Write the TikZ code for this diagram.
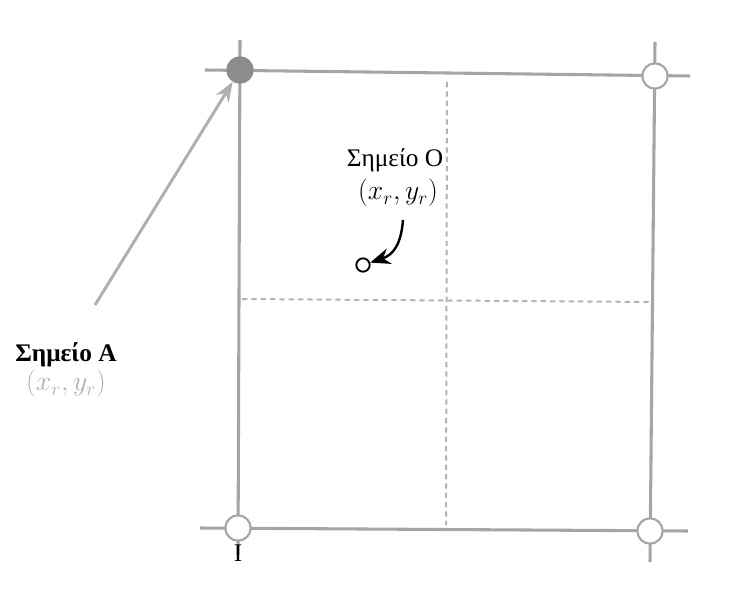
\documentclass[tikz,border=0pt]{standalone}
\usepackage{fontspec}
\setmainfont{Liberation Serif}
\usetikzlibrary{arrows.meta}
\definecolor{gridgray}{RGB}{165,165,165}
\definecolor{dashgray}{RGB}{180,180,180}
\definecolor{fillgray}{RGB}{140,140,140}
\definecolor{labgray}{RGB}{175,175,175}
\begin{document}
\begin{tikzpicture}[x=0.75pt,y=-0.75pt,
  gline/.style={draw=gridgray,line width=2.3pt},
  dline/.style={draw=dashgray,line width=1.5pt,dash pattern=on 4pt off 3pt},
  corner/.style={circle,draw=gridgray,line width=1.6pt,fill=white,minimum size=19pt,inner sep=0pt},
  lab/.style={font=\fontsize{19}{22}\selectfont,inner sep=1pt}]
\useasboundingbox[fill=white] (0,0) rectangle (732,595);
% frame lines
\draw[gline] (205,70) -- (690,76);
\draw[gline] (200,528) -- (688,531);
\draw[gline] (240,40) -- (238,555);
\draw[gline] (655,42) -- (650,562);
% dashed
\draw[dline] (447,82) -- (446,525);
\draw[dline] (242,299) -- (653,302);
% corners
\node[corner,fill=fillgray,draw=fillgray] (A) at (240,70) {};
\node[corner] (B) at (655,76) {};
\node[corner] (C) at (238,528) {};
\node[corner] (D) at (650,531) {};
\node[font=\fontsize{19}{22}\selectfont,inner sep=0pt] (I) at (238,553) {I};
% point O
\node[circle,draw=black,line width=1.4pt,fill=white,minimum size=10pt,inner sep=0pt] (O) at (363,265) {};
\node[lab] (Ot) at (395,160) {Σημείο Ο};
\node[lab,font=\fontsize{21}{24}\selectfont] (Oc) at (398,193) {$(x_{r}, y_{r})$};
\coordinate (Os) at (403,220);
\draw[line width=1.8pt,-{Stealth[length=15pt,width=12pt]}] (Os) .. controls (401,245) and (393,255) .. (O);
% point A
\node[lab,font=\fontsize{19}{22}\selectfont\bfseries] (At) at (66,355) {Σημείο Α};
\node[lab,font=\fontsize{21}{24}\selectfont,text=labgray] (Ac) at (66,384) {$(x_{r}, y_{r})$};
\coordinate (As) at (95,305);
\draw[draw=labgray,line width=2.2pt,-{Stealth[length=15pt,width=11pt]}] (As) -- (A);
\end{tikzpicture}
\end{document}
